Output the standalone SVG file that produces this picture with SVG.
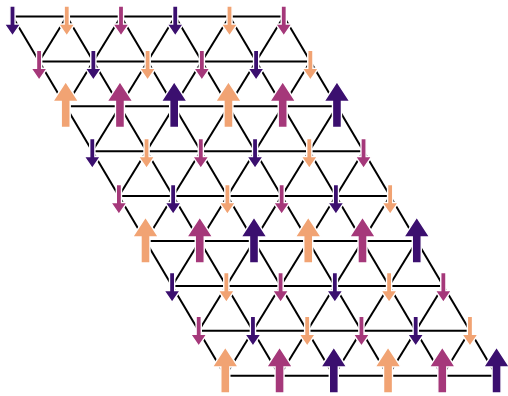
<svg xmlns="http://www.w3.org/2000/svg" xmlns:xlink="http://www.w3.org/1999/xlink" width="508" height="396" viewBox="0 0 508 396">
<style>
.bond{stroke:#000;stroke-width:2;fill:none;stroke-linecap:butt}
.a{stroke:#fff;stroke-width:1.4;stroke-linejoin:miter}
.D{fill:#3b0f6f}
.O{fill:#f1a373}
.M{fill:#a5387a}
</style>
<defs>
<path id="dn" d="M-2.6,-30 H2.6 V-12 H8.2 L0,0 L-8.2,-12 H-2.6 Z"/>
<path id="up" d="M0,0 L13,20 H4.5 V46 H-4.5 V20 H-13 Z"/>
</defs>
<rect width="508" height="396" fill="#fff"/>
<g id="connectors">
<line class="bond" x1="12.5" y1="16.5" x2="283.75" y2="16.5"/>
<line class="bond" x1="39.1" y1="61.4" x2="310.35" y2="61.4"/>
<line class="bond" x1="65.7" y1="106.3" x2="336.95" y2="106.3"/>
<line class="bond" x1="92.3" y1="151.2" x2="363.55" y2="151.2"/>
<line class="bond" x1="118.9" y1="196.1" x2="390.15" y2="196.1"/>
<line class="bond" x1="145.5" y1="241" x2="416.75" y2="241"/>
<line class="bond" x1="172.1" y1="285.9" x2="443.35" y2="285.9"/>
<line class="bond" x1="198.7" y1="330.8" x2="469.95" y2="330.8"/>
<line class="bond" x1="225.3" y1="375.7" x2="496.55" y2="375.7"/>
<line class="bond" x1="12.5" y1="16.5" x2="225.3" y2="375.7"/>
<line class="bond" x1="66.75" y1="16.5" x2="279.55" y2="375.7"/>
<line class="bond" x1="121" y1="16.5" x2="333.8" y2="375.7"/>
<line class="bond" x1="175.25" y1="16.5" x2="388.05" y2="375.7"/>
<line class="bond" x1="229.5" y1="16.5" x2="442.3" y2="375.7"/>
<line class="bond" x1="283.75" y1="16.5" x2="496.55" y2="375.7"/>
<line class="bond" x1="66.75" y1="16.5" x2="39.1" y2="61.4"/>
<line class="bond" x1="121" y1="16.5" x2="65.7" y2="106.3"/>
<line class="bond" x1="175.25" y1="16.5" x2="92.3" y2="151.2"/>
<line class="bond" x1="229.5" y1="16.5" x2="118.9" y2="196.1"/>
<line class="bond" x1="283.75" y1="16.5" x2="145.5" y2="241"/>
<line class="bond" x1="310.35" y1="61.4" x2="172.1" y2="285.9"/>
<line class="bond" x1="336.95" y1="106.3" x2="198.7" y2="330.8"/>
<line class="bond" x1="363.55" y1="151.2" x2="225.3" y2="375.7"/>
<line class="bond" x1="390.15" y1="196.1" x2="279.55" y2="375.7"/>
<line class="bond" x1="416.75" y1="241" x2="333.8" y2="375.7"/>
<line class="bond" x1="443.35" y1="285.9" x2="388.05" y2="375.7"/>
<line class="bond" x1="469.95" y1="330.8" x2="442.3" y2="375.7"/>
</g>
<g id="s0-0"><use href="#dn" x="12.5" y="36" class="a D"/></g>
<g id="s0-1"><use href="#dn" x="66.75" y="36" class="a O"/></g>
<g id="s0-2"><use href="#dn" x="121" y="36" class="a M"/></g>
<g id="s0-3"><use href="#dn" x="175.25" y="36" class="a D"/></g>
<g id="s0-4"><use href="#dn" x="229.5" y="36" class="a O"/></g>
<g id="s0-5"><use href="#dn" x="283.75" y="36" class="a M"/></g>
<g id="s1-0"><use href="#dn" x="39.1" y="80.2" class="a M"/></g>
<g id="s1-1"><use href="#dn" x="93.35" y="80.2" class="a D"/></g>
<g id="s1-2"><use href="#dn" x="147.6" y="80.2" class="a O"/></g>
<g id="s1-3"><use href="#dn" x="201.85" y="80.2" class="a M"/></g>
<g id="s1-4"><use href="#dn" x="256.1" y="80.2" class="a D"/></g>
<g id="s1-5"><use href="#dn" x="310.35" y="80.2" class="a O"/></g>
<g id="s2-0"><use href="#up" x="65.7" y="81.5" class="a O"/></g>
<g id="s2-1"><use href="#up" x="119.95" y="81.5" class="a M"/></g>
<g id="s2-2"><use href="#up" x="174.2" y="81.5" class="a D"/></g>
<g id="s2-3"><use href="#up" x="228.45" y="81.5" class="a O"/></g>
<g id="s2-4"><use href="#up" x="282.7" y="81.5" class="a M"/></g>
<g id="s2-5"><use href="#up" x="336.95" y="81.5" class="a D"/></g>
<g id="s3-0"><use href="#dn" x="92.3" y="168.5" class="a D"/></g>
<g id="s3-1"><use href="#dn" x="146.55" y="168.5" class="a O"/></g>
<g id="s3-2"><use href="#dn" x="200.8" y="168.5" class="a M"/></g>
<g id="s3-3"><use href="#dn" x="255.05" y="168.5" class="a D"/></g>
<g id="s3-4"><use href="#dn" x="309.3" y="168.5" class="a O"/></g>
<g id="s3-5"><use href="#dn" x="363.55" y="168.5" class="a M"/></g>
<g id="s4-0"><use href="#dn" x="118.9" y="214.5" class="a M"/></g>
<g id="s4-1"><use href="#dn" x="173.15" y="214.5" class="a D"/></g>
<g id="s4-2"><use href="#dn" x="227.4" y="214.5" class="a O"/></g>
<g id="s4-3"><use href="#dn" x="281.65" y="214.5" class="a M"/></g>
<g id="s4-4"><use href="#dn" x="335.9" y="214.5" class="a D"/></g>
<g id="s4-5"><use href="#dn" x="390.15" y="214.5" class="a O"/></g>
<g id="s5-0"><use href="#up" x="145.5" y="217" class="a O"/></g>
<g id="s5-1"><use href="#up" x="199.75" y="217" class="a M"/></g>
<g id="s5-2"><use href="#up" x="254" y="217" class="a D"/></g>
<g id="s5-3"><use href="#up" x="308.25" y="217" class="a O"/></g>
<g id="s5-4"><use href="#up" x="362.5" y="217" class="a M"/></g>
<g id="s5-5"><use href="#up" x="416.75" y="217" class="a D"/></g>
<g id="s6-0"><use href="#dn" x="172.1" y="302.5" class="a D"/></g>
<g id="s6-1"><use href="#dn" x="226.35" y="302.5" class="a O"/></g>
<g id="s6-2"><use href="#dn" x="280.6" y="302.5" class="a M"/></g>
<g id="s6-3"><use href="#dn" x="334.85" y="302.5" class="a D"/></g>
<g id="s6-4"><use href="#dn" x="389.1" y="302.5" class="a O"/></g>
<g id="s6-5"><use href="#dn" x="443.35" y="302.5" class="a M"/></g>
<g id="s7-0"><use href="#dn" x="198.7" y="346.2" class="a M"/></g>
<g id="s7-1"><use href="#dn" x="252.95" y="346.2" class="a D"/></g>
<g id="s7-2"><use href="#dn" x="307.2" y="346.2" class="a O"/></g>
<g id="s7-3"><use href="#dn" x="361.45" y="346.2" class="a M"/></g>
<g id="s7-4"><use href="#dn" x="415.7" y="346.2" class="a D"/></g>
<g id="s7-5"><use href="#dn" x="469.95" y="346.2" class="a O"/></g>
<g id="s8-0"><use href="#up" x="225.3" y="347" class="a O"/></g>
<g id="s8-1"><use href="#up" x="279.55" y="347" class="a M"/></g>
<g id="s8-2"><use href="#up" x="333.8" y="347" class="a D"/></g>
<g id="s8-3"><use href="#up" x="388.05" y="347" class="a O"/></g>
<g id="s8-4"><use href="#up" x="442.3" y="347" class="a M"/></g>
<g id="s8-5"><use href="#up" x="496.55" y="347" class="a D"/></g>
</svg>
